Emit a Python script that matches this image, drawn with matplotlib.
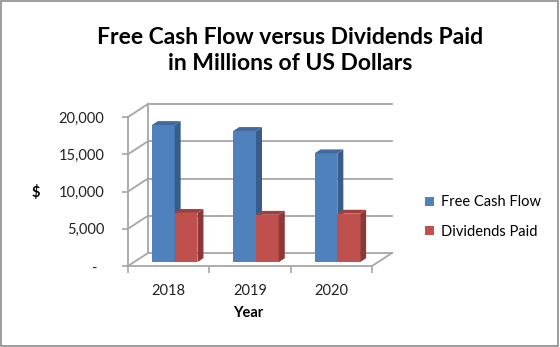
import matplotlib
matplotlib.use("Agg")
import matplotlib.pyplot as plt
import numpy as np
from matplotlib.patches import Polygon, Rectangle

years = ["2018", "2019", "2020"]
free_cash_flow = [18400, 17600, 14600]
dividends_paid = [6600, 6350, 6500]
series_names = ["Free Cash Flow", "Dividends Paid"]
y_ticks = [0, 5000, 10000, 15000, 20000]
y_tick_labels = ["-  ", "5,000", "10,000", "15,000", "20,000"]

# Excel-like 3D column look: front/side/top shades per series
FACE = ["#4f81bd", "#c0504d"]
SIDE = ["#385d8a", "#8c3836"]
TOP = ["#42699c", "#a0403d"]
GRID = "#a6a6a6"
FONT = ["Lato", "DejaVu Sans"]

W, H, DPI = 560, 347, 100
fig = plt.figure(figsize=(W / DPI, H / DPI), dpi=DPI)
fig.patch.set_facecolor("white")
fig.patches.append(Rectangle((0.002, 0.003), 0.995, 0.994, transform=fig.transFigure,
                             fill=False, edgecolor="#8c8c8c", lw=1.2))

# front plane of the 3D box
ax = fig.add_axes([128 / W, (H - 266) / H, 244 / W, 149 / H])
ax.set_xlim(-0.5, len(years) - 0.5)
ax.set_ylim(0, y_ticks[-1])
ax.patch.set_alpha(0)

# depth of the box, given in pixels, converted to data units
DEPTH_PX = (20, 13)
p0 = ax.transData.transform((0, 0))
p1 = ax.transData.inverted().transform((p0[0] + DEPTH_PX[0], p0[1] + DEPTH_PX[1]))
DDX, DDY = p1[0], p1[1]

x0, x1 = -0.5, len(years) - 0.5
line_kw = dict(color=GRID, lw=1.3, clip_on=False, zorder=1)

# back wall gridlines and left wall diagonals
for v in y_ticks:
    ax.plot([x0 + DDX, x1 + DDX], [v + DDY, v + DDY], **line_kw)
    ax.plot([x0, x0 + DDX], [v, v + DDY], **line_kw)
ax.plot([x0 + DDX, x0 + DDX], [DDY, y_ticks[-1] + DDY], **line_kw)
# floor right edge
ax.plot([x1, x1 + DDX], [0, DDY], **line_kw)

# bars
bar_w = 0.28
d_front, d_back = 0.3, 0.6
x = np.arange(len(years))
for i, (name, vals) in enumerate(zip(series_names, [free_cash_flow, dividends_paid])):
    left = x - bar_w + i * bar_w + d_front * DDX
    base = d_front * DDY
    ax.bar(left, vals, width=bar_w, bottom=base, align="edge", color=FACE[i],
           label=name, zorder=3, clip_on=False)
    sx = (d_back - d_front) * DDX
    sy = (d_back - d_front) * DDY
    for l, v in zip(left, vals):
        r = l + bar_w
        top = base + v
        ax.add_patch(Polygon([(r, base), (r + sx, base + sy), (r + sx, top + sy), (r, top)],
                             closed=True, facecolor=SIDE[i], edgecolor="none",
                             zorder=3, clip_on=False))
        ax.add_patch(Polygon([(l, top), (r, top), (r + sx, top + sy), (l + sx, top + sy)],
                             closed=True, facecolor=TOP[i], edgecolor="none",
                             zorder=3, clip_on=False))

# axes, ticks, labels
for s in ["top", "right"]:
    ax.spines[s].set_visible(False)
for s in ["left", "bottom"]:
    ax.spines[s].set_color(GRID)
    ax.spines[s].set_linewidth(1.3)
    ax.spines[s].set_zorder(2)

ax.set_yticks(y_ticks)
ax.set_yticklabels(y_tick_labels, fontsize=10.5, family=FONT, color="#222222")
ax.tick_params(axis="y", length=4, width=1.2, color=GRID, pad=13)

ax.set_xticks(x)
ax.set_xticklabels(years, fontsize=10.5, family=FONT, color="#222222")
ax.set_xticks(np.arange(len(years) + 1) - 0.5, minor=True)
ax.tick_params(axis="x", which="major", length=0, pad=13)
ax.tick_params(axis="x", which="minor", length=5, width=1.2, color=GRID)

fig.text(290 / W, 1 - 50.5 / H, "Free Cash Flow versus Dividends Paid\nin Millions of US Dollars",
         ha="center", va="center", fontsize=16.5, fontweight="bold", family=FONT,
         linespacing=1.3)
fig.text(36 / W, 1 - 192 / H, "$", ha="center", va="center", fontsize=10.5,
         fontweight="bold", family=FONT)
fig.text(248 / W, 1 - 313 / H, "Year", ha="center", va="center", fontsize=10.5,
         fontweight="bold", family=FONT)

fig.legend(loc="upper left", bbox_to_anchor=(418 / W, 1 - 188 / H), frameon=False,
           prop={"family": FONT, "size": 10.5}, handlelength=0.6, handleheight=0.6,
           handletextpad=0.5, labelspacing=1.05, borderpad=0)

fig.savefig("out.png", dpi=DPI)
